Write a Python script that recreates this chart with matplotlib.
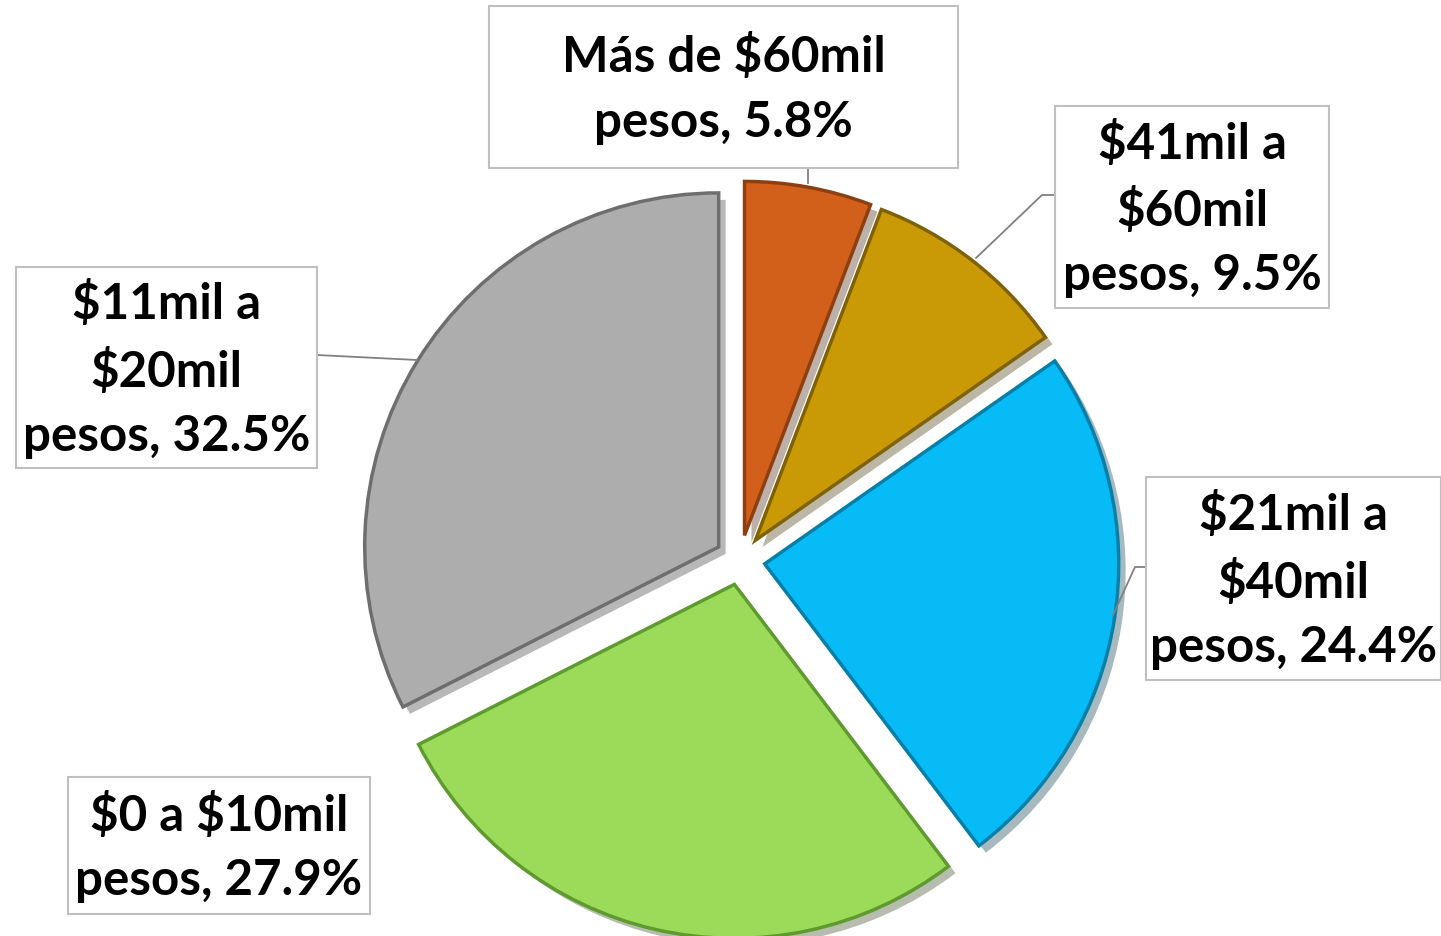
import matplotlib.pyplot as plt
import matplotlib.patheffects as pe
from matplotlib.patches import Rectangle

# data (clockwise from the top)
labels = ["Más de $60mil\npesos", "$41mil a\n$60mil\npesos", "$21mil a\n$40mil\npesos",
          "$0 a $10mil\npesos", "$11mil a\n$20mil\npesos"]
values = [5.8, 9.5, 24.4, 27.9, 32.5]
colors = ["#D2601A", "#C99A06", "#07BBF7", "#9CDB5A", "#ADADAD"]
edges = ["#8E3F10", "#7F6204", "#047FA8", "#5E9A2E", "#6E6E6E"]

W, H = 1441, 936
fig = plt.figure(figsize=(W / 100, H / 100), dpi=100)
ax = fig.add_axes([0, 0, 1, 1])

wedges, _ = ax.pie(values, colors=colors, startangle=90, counterclock=False,
                   radius=354, center=(740, H - 560), explode=[25] * 5,
                   wedgeprops=dict(linewidth=2.5))
for w, ec in zip(wedges, edges):
    w.set_edgecolor(ec)
    w.set_path_effects([pe.SimplePatchShadow(offset=(5, -5), alpha=0.35), pe.Normal()])

ax.set_xlim(0, W)
ax.set_ylim(0, H)
ax.set_aspect("equal")
ax.axis("off")

# label boxes: (x0, y0, x1, y1) in pixels from top-left
boxes = [(489, 6, 958, 168), (1055, 106, 1329, 308), (1146, 477, 1441, 680),
         (68, 777, 370, 914), (16, 267, 317, 468)]
for (x0, y0, x1, y1), lab, v in zip(boxes, labels, values):
    ax.add_patch(Rectangle((x0, H - y1), x1 - x0, y1 - y0, facecolor="white",
                           edgecolor="#BFBFBF", linewidth=1.5, zorder=3))
    ax.text((x0 + x1) / 2, H - (y0 + y1) / 2 - 2, f"{lab}, {v}%", ha="center", va="center",
            fontsize=35.5, fontweight="bold", family="Lato", linespacing=1.52,
            parse_math=False, zorder=4)

# leader lines
leaders = [([808, 808], [168, 183]),
           ([1055, 1042, 976], [195, 195, 258]),
           ([1146, 1135, 1113], [567, 567, 615]),
           ([317, 417], [355, 360])]
for xs, ys in leaders:
    ax.plot(xs, [H - y for y in ys], color="#808080", linewidth=1.3, zorder=2)

fig.savefig("out.png", dpi=100)
